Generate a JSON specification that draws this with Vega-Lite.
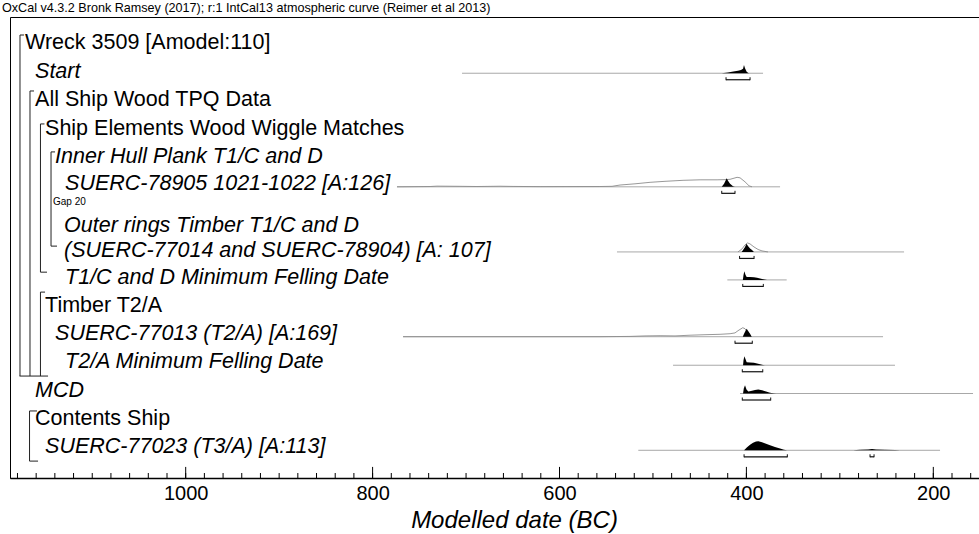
{
  "$schema": "https://vega.github.io/schema/vega-lite/v6.json",
  "width": 972,
  "height": 461,
  "autosize": "none",
  "padding": {"left": 10, "top": 17, "right": 0, "bottom": 56},
  "background": "#ffffff",
  "title": {"text": "OxCal v4.3.2 Bronk Ramsey (2017); r:1 IntCal13 atmospheric curve (Reimer et al 2013)", "anchor": "start", "frame": "group", "fontSize": 12.6, "fontWeight": "normal", "font": "Liberation Sans", "color": "#000", "offset": 2, "dx": -8},
  "config": {"view": {"stroke": "#000", "strokeWidth": 1}, "font": "Liberation Sans"},
  "datasets": {
    "rows": [
      {"id": "start", "row": 2.03, "lo": 704.3, "hi": 382.2},
      {"id": "s78905", "row": 6.13, "lo": 773.9, "hi": 364.0},
      {"id": "outer", "row": 8.48, "lo": 538.5, "hi": 231.3},
      {"id": "t1c", "row": 9.49, "lo": 420.4, "hi": 356.9},
      {"id": "s77013", "row": 11.54, "lo": 767.4, "hi": 253.8},
      {"id": "t2a", "row": 12.57, "lo": 478.5, "hi": 241.0},
      {"id": "mcd", "row": 13.59, "lo": 406.8, "hi": 157.5},
      {"id": "s77023", "row": 15.64, "lo": 515.7, "hi": 192.8}
    ],
    "ranges": [
      {"id": "start", "lo": 421.8, "hi": 396.1},
      {"id": "s78905", "lo": 426.4, "hi": 412.2},
      {"id": "outer", "lo": 407.3, "hi": 391.8},
      {"id": "t1c", "lo": 403.9, "hi": 381.9},
      {"id": "s77013", "lo": 412.2, "hi": 393.7},
      {"id": "t2a", "lo": 404.4, "hi": 382.5},
      {"id": "mcd", "lo": 404.4, "hi": 374.0},
      {"id": "s77023", "lo": 402.5, "hi": 356.2},
      {"id": "s77023", "lo": 267.7, "hi": 263.4}
    ],
    "posterior": [
      {"id": "start", "year": 426.4, "h": 0}, {"id": "start", "year": 419.7, "h": 0.7}, {"id": "start", "year": 414.0, "h": 1.7}, {"id": "start", "year": 409.0, "h": 2.5}, {"id": "start", "year": 405.8, "h": 3.2}, {"id": "start", "year": 403.6, "h": 4.5}, {"id": "start", "year": 402.6, "h": 8.3}, {"id": "start", "year": 401.5, "h": 5}, {"id": "start", "year": 399.7, "h": 1.5}, {"id": "start", "year": 398.0, "h": 0.3}, {"id": "start", "year": 397.2, "h": 0},
      {"id": "s78905", "year": 426.4, "h": 0}, {"id": "s78905", "year": 423.9, "h": 3}, {"id": "s78905", "year": 421.1, "h": 8.5}, {"id": "s78905", "year": 419.7, "h": 6}, {"id": "s78905", "year": 417.5, "h": 3}, {"id": "s78905", "year": 414.3, "h": 0.5}, {"id": "s78905", "year": 412.2, "h": 0},
      {"id": "outer", "year": 405.2, "h": 0}, {"id": "outer", "year": 403.6, "h": 2}, {"id": "outer", "year": 401.5, "h": 5}, {"id": "outer", "year": 399.9, "h": 8.3}, {"id": "outer", "year": 398.3, "h": 6}, {"id": "outer", "year": 396.1, "h": 3.5}, {"id": "outer", "year": 394.0, "h": 2}, {"id": "outer", "year": 391.9, "h": 0},
      {"id": "t1c", "year": 403.8, "h": 0}, {"id": "t1c", "year": 403.1, "h": 5}, {"id": "t1c", "year": 402.2, "h": 8.7}, {"id": "t1c", "year": 400.9, "h": 5}, {"id": "t1c", "year": 399.7, "h": 3}, {"id": "t1c", "year": 396.1, "h": 2.8}, {"id": "t1c", "year": 391.9, "h": 2.6}, {"id": "t1c", "year": 388.6, "h": 2.2}, {"id": "t1c", "year": 385.4, "h": 1.3}, {"id": "t1c", "year": 382.2, "h": 0.6}, {"id": "t1c", "year": 377.9, "h": 0},
      {"id": "s77013", "year": 403.9, "h": 0}, {"id": "s77013", "year": 402.5, "h": 3}, {"id": "s77013", "year": 400.9, "h": 6}, {"id": "s77013", "year": 399.7, "h": 8}, {"id": "s77013", "year": 398.3, "h": 6}, {"id": "s77013", "year": 396.1, "h": 3}, {"id": "s77013", "year": 394.3, "h": 0},
      {"id": "t2a", "year": 403.6, "h": 0}, {"id": "t2a", "year": 403.1, "h": 5}, {"id": "t2a", "year": 402.2, "h": 9}, {"id": "t2a", "year": 400.9, "h": 6}, {"id": "t2a", "year": 399.7, "h": 3}, {"id": "t2a", "year": 396.1, "h": 2.8}, {"id": "t2a", "year": 391.9, "h": 2.5}, {"id": "t2a", "year": 388.6, "h": 1.8}, {"id": "t2a", "year": 385.4, "h": 1}, {"id": "t2a", "year": 382.2, "h": 0.3}, {"id": "t2a", "year": 380.1, "h": 0},
      {"id": "mcd", "year": 403.6, "h": 0}, {"id": "mcd", "year": 402.8, "h": 5}, {"id": "mcd", "year": 401.5, "h": 8.3}, {"id": "mcd", "year": 399.9, "h": 4}, {"id": "mcd", "year": 398.0, "h": 2}, {"id": "mcd", "year": 395.1, "h": 2.5}, {"id": "mcd", "year": 390.8, "h": 3.5}, {"id": "mcd", "year": 387.3, "h": 4}, {"id": "mcd", "year": 383.3, "h": 3.3}, {"id": "mcd", "year": 379.0, "h": 2}, {"id": "mcd", "year": 374.7, "h": 0.8}, {"id": "mcd", "year": 371.2, "h": 0.2}, {"id": "mcd", "year": 368.3, "h": 0},
      {"id": "s77023", "year": 402.5, "h": 0}, {"id": "s77023", "year": 399.3, "h": 3}, {"id": "s77023", "year": 396.1, "h": 5.5}, {"id": "s77023", "year": 392.9, "h": 7.5}, {"id": "s77023", "year": 389.7, "h": 8.7}, {"id": "s77023", "year": 387.2, "h": 9}, {"id": "s77023", "year": 383.3, "h": 8}, {"id": "s77023", "year": 379.0, "h": 6.5}, {"id": "s77023", "year": 374.7, "h": 5}, {"id": "s77023", "year": 369.4, "h": 3.3}, {"id": "s77023", "year": 364.0, "h": 1.7}, {"id": "s77023", "year": 359.8, "h": 0.6}, {"id": "s77023", "year": 356.5, "h": 0}, {"id": "s77023", "year": 285.9, "h": 0}, {"id": "s77023", "year": 278.4, "h": 0.5}, {"id": "s77023", "year": 269.8, "h": 0.8}, {"id": "s77023", "year": 265.6, "h": 1.3}, {"id": "s77023", "year": 261.3, "h": 0.8}, {"id": "s77023", "year": 251.7, "h": 0.5}, {"id": "s77023", "year": 241.0, "h": 0.3}, {"id": "s77023", "year": 235.6, "h": 0}
    ],
    "likelihood": [
      {"id": "s78905", "year": 773.9, "h": 0}, {"id": "s78905", "year": 738.5, "h": 0.3}, {"id": "s78905", "year": 731.1, "h": 0.7}, {"id": "s78905", "year": 706.5, "h": 0.5}, {"id": "s78905", "year": 688.3, "h": 0.3}, {"id": "s78905", "year": 663.6, "h": 0.6}, {"id": "s78905", "year": 649.7, "h": 0.4}, {"id": "s78905", "year": 620.8, "h": 0.2}, {"id": "s78905", "year": 556.7, "h": 0.3}, {"id": "s78905", "year": 543.8, "h": 0.5}, {"id": "s78905", "year": 535.2, "h": 1.8}, {"id": "s78905", "year": 519.2, "h": 3}, {"id": "s78905", "year": 503.1, "h": 4.5}, {"id": "s78905", "year": 487.1, "h": 5.5}, {"id": "s78905", "year": 467.8, "h": 6.5}, {"id": "s78905", "year": 449.6, "h": 7}, {"id": "s78905", "year": 431.4, "h": 7}, {"id": "s78905", "year": 422.9, "h": 7.2}, {"id": "s78905", "year": 417.5, "h": 7.5}, {"id": "s78905", "year": 410.0, "h": 9.5}, {"id": "s78905", "year": 406.8, "h": 9}, {"id": "s78905", "year": 401.5, "h": 5}, {"id": "s78905", "year": 397.2, "h": 1}, {"id": "s78905", "year": 394.0, "h": 0},
      {"id": "outer", "year": 409.0, "h": 0}, {"id": "outer", "year": 404.7, "h": 3}, {"id": "outer", "year": 401.5, "h": 7}, {"id": "outer", "year": 398.8, "h": 9}, {"id": "outer", "year": 396.1, "h": 8}, {"id": "outer", "year": 391.9, "h": 5}, {"id": "outer", "year": 387.6, "h": 2.5}, {"id": "outer", "year": 383.3, "h": 1}, {"id": "outer", "year": 376.9, "h": 0},
      {"id": "s77013", "year": 767.4, "h": 0}, {"id": "s77013", "year": 556.6, "h": 0}, {"id": "s77013", "year": 524.5, "h": 0.3}, {"id": "s77013", "year": 508.5, "h": 0.8}, {"id": "s77013", "year": 492.4, "h": 1}, {"id": "s77013", "year": 476.4, "h": 0.8}, {"id": "s77013", "year": 460.3, "h": 1.5}, {"id": "s77013", "year": 444.3, "h": 2}, {"id": "s77013", "year": 428.2, "h": 2.4}, {"id": "s77013", "year": 417.5, "h": 3}, {"id": "s77013", "year": 412.2, "h": 3.8}, {"id": "s77013", "year": 409.0, "h": 6}, {"id": "s77013", "year": 403.9, "h": 9}, {"id": "s77013", "year": 401.5, "h": 8}, {"id": "s77013", "year": 399.3, "h": 5}, {"id": "s77013", "year": 397.2, "h": 2}, {"id": "s77013", "year": 395.1, "h": 0}
    ],
    "labels": [
      {"text": "Wreck 3509 [Amodel:110]", "x": 1171.9, "row": 0.94, "kind": "group"},
      {"text": "Start", "x": 1161.2, "row": 1.97, "kind": "item"},
      {"text": "All Ship Wood TPQ Data", "x": 1161.2, "row": 3.0, "kind": "group"},
      {"text": "Ship Elements Wood Wiggle Matches", "x": 1150.5, "row": 4.03, "kind": "group"},
      {"text": "Inner Hull Plank T1/C and D", "x": 1139.8, "row": 5.05, "kind": "item"},
      {"text": "SUERC-78905 1021-1022 [A:126]", "x": 1129.1, "row": 6.04, "kind": "item"},
      {"text": "Gap 20", "x": 1142.0, "row": 6.68, "kind": "note"},
      {"text": "Outer rings Timber T1/C and D", "x": 1130.2, "row": 7.55, "kind": "item"},
      {"text": "(SUERC-77014 and SUERC-78904) [A: 107]", "x": 1130.2, "row": 8.46, "kind": "item"},
      {"text": "T1/C and D Minimum Felling Date", "x": 1129.1, "row": 9.42, "kind": "item"},
      {"text": "Timber T2/A", "x": 1150.5, "row": 10.44, "kind": "group"},
      {"text": "SUERC-77013 (T2/A) [A:169]", "x": 1139.8, "row": 11.45, "kind": "item"},
      {"text": "T2/A Minimum Felling Date", "x": 1129.1, "row": 12.47, "kind": "item"},
      {"text": "MCD", "x": 1161.2, "row": 13.49, "kind": "item"},
      {"text": "Contents Ship", "x": 1161.2, "row": 14.51, "kind": "group"},
      {"text": "SUERC-77023 (T3/A) [A:113]", "x": 1150.5, "row": 15.52, "kind": "item"}
    ],
    "brackets": [
      {"x": 1177.3, "x2": 1177.3, "y": 0.65, "y2": 12.96},
      {"x": 1177.3, "x2": 1173.0, "y": 0.65, "y2": 0.65},
      {"x": 1166.6, "x2": 1166.6, "y": 2.67, "y2": 12.96},
      {"x": 1166.6, "x2": 1162.3, "y": 2.67, "y2": 2.67},
      {"x": 1177.8, "x2": 1147.3, "y": 12.96, "y2": 12.96},
      {"x": 1155.4, "x2": 1155.4, "y": 3.86, "y2": 9.21},
      {"x": 1155.4, "x2": 1151.1, "y": 3.86, "y2": 3.86},
      {"x": 1155.4, "x2": 1148.4, "y": 9.21, "y2": 9.21},
      {"x": 1144.1, "x2": 1144.1, "y": 4.87, "y2": 8.27},
      {"x": 1144.1, "x2": 1139.8, "y": 4.87, "y2": 4.87},
      {"x": 1144.1, "x2": 1137.7, "y": 8.27, "y2": 8.27},
      {"x": 1155.4, "x2": 1155.4, "y": 9.93, "y2": 12.96},
      {"x": 1155.4, "x2": 1150.5, "y": 9.93, "y2": 9.93},
      {"x": 1167.1, "x2": 1167.1, "y": 14.22, "y2": 16.03},
      {"x": 1167.1, "x2": 1159.1, "y": 14.22, "y2": 14.22},
      {"x": 1167.1, "x2": 1158.0, "y": 16.03, "y2": 16.03}
    ],
    "ticks": [
      {"year": 1180}, {"year": 1160}, {"year": 1140}, {"year": 1120}, {"year": 1100}, {"year": 1080}, {"year": 1060}, {"year": 1040}, {"year": 1020}, {"year": 1000},
      {"year": 980}, {"year": 960}, {"year": 940}, {"year": 920}, {"year": 900}, {"year": 880}, {"year": 860}, {"year": 840}, {"year": 820}, {"year": 800},
      {"year": 780}, {"year": 760}, {"year": 740}, {"year": 720}, {"year": 700}, {"year": 680}, {"year": 660}, {"year": 640}, {"year": 620}, {"year": 600},
      {"year": 580}, {"year": 560}, {"year": 540}, {"year": 520}, {"year": 500}, {"year": 480}, {"year": 460}, {"year": 440}, {"year": 420}, {"year": 400},
      {"year": 380}, {"year": 360}, {"year": 340}, {"year": 320}, {"year": 300}, {"year": 280}, {"year": 260}, {"year": 240}, {"year": 220}, {"year": 200},
      {"year": 180}, {"year": 160}
    ],
    "majorTicks": [{"year": 1000}, {"year": 800}, {"year": 600}, {"year": 400}, {"year": 200}]
  },
  "layer": [
    {
      "data": {"name": "ticks"},
      "mark": {"type": "rule", "color": "#000", "strokeWidth": 1},
      "encoding": {
        "x": {"field": "year", "type": "quantitative", "title": "Modelled date (BC)",
          "scale": {"domain": [147.9, 1188], "reverse": true, "nice": false, "zero": false},
          "axis": {"values": [1000, 800, 600, 400, 200], "format": "d", "ticks": false, "grid": false, "labelFontSize": 20, "labelColor": "#000", "labelFont": "Liberation Sans", "labelPadding": 5, "domainColor": "#000", "domainWidth": 1.5, "titleFontSize": 24, "titleFontStyle": "italic", "titleFontWeight": "normal", "titleFont": "Liberation Sans", "titleColor": "#000", "titlePadding": 5, "titleX": 504}},
        "y": {"datum": 16.64, "type": "quantitative", "scale": {"domain": [0, 16.64], "reverse": true, "nice": false, "zero": false}, "axis": null},
        "y2": {"datum": 16.46}
      }
    },
    {
      "data": {"name": "majorTicks"},
      "mark": {"type": "rule", "color": "#000", "strokeWidth": 1},
      "encoding": {
        "x": {"field": "year", "type": "quantitative", "title": "Modelled date (BC)"},
        "y": {"datum": 16.64, "type": "quantitative", "axis": null},
        "y2": {"datum": 16.24}
      }
    },
    {
      "data": {"name": "brackets"},
      "mark": {"type": "rule", "color": "#222", "strokeWidth": 1},
      "encoding": {
        "x": {"field": "x", "type": "quantitative", "title": "Modelled date (BC)"},
        "x2": {"field": "x2"},
        "y": {"field": "y", "type": "quantitative", "axis": null},
        "y2": {"field": "y2"}
      }
    },
    {
      "data": {"name": "rows"},
      "mark": {"type": "rule", "color": "#a8a8a8", "strokeWidth": 1},
      "encoding": {
        "x": {"field": "lo", "type": "quantitative", "title": "Modelled date (BC)"},
        "x2": {"field": "hi"},
        "y": {"field": "row", "type": "quantitative", "axis": null}
      }
    },
    {
      "data": {"name": "likelihood"},
      "transform": [
        {"lookup": "id", "from": {"data": {"name": "rows"}, "key": "id", "fields": ["row"]}},
        {"calculate": "datum.row - datum.h / 27.7", "as": "top"}
      ],
      "mark": {"type": "line", "color": "#8c8c8c", "strokeWidth": 0.9, "interpolate": "linear"},
      "encoding": {
        "x": {"field": "year", "type": "quantitative", "title": "Modelled date (BC)"},
        "y": {"field": "top", "type": "quantitative", "axis": null},
        "detail": {"field": "id"}
      }
    },
    {
      "data": {"name": "posterior"},
      "transform": [
        {"lookup": "id", "from": {"data": {"name": "rows"}, "key": "id", "fields": ["row"]}},
        {"calculate": "datum.row - datum.h / 27.7", "as": "top"}
      ],
      "mark": {"type": "area", "color": "#000", "interpolate": "linear"},
      "encoding": {
        "x": {"field": "year", "type": "quantitative", "title": "Modelled date (BC)"},
        "y": {"field": "top", "type": "quantitative", "axis": null},
        "y2": {"field": "row"},
        "detail": {"field": "id"}
      }
    },
    {
      "data": {"name": "ranges"},
      "transform": [
        {"lookup": "id", "from": {"data": {"name": "rows"}, "key": "id", "fields": ["row"]}}
      ],
      "layer": [
        {
          "mark": {"type": "rule", "color": "#111", "strokeWidth": 1.2, "yOffset": 6.5},
          "encoding": {
            "x": {"field": "lo", "type": "quantitative", "title": "Modelled date (BC)"},
            "x2": {"field": "hi"},
            "y": {"field": "row", "type": "quantitative", "axis": null}
          }
        },
        {
          "mark": {"type": "rule", "color": "#111", "strokeWidth": 1, "yOffset": 4, "y2Offset": 7},
          "encoding": {
            "x": {"field": "lo", "type": "quantitative", "title": "Modelled date (BC)"},
            "y": {"field": "row", "type": "quantitative", "axis": null},
            "y2": {"field": "row"}
          }
        },
        {
          "mark": {"type": "rule", "color": "#111", "strokeWidth": 1, "yOffset": 4, "y2Offset": 7},
          "encoding": {
            "x": {"field": "hi", "type": "quantitative", "title": "Modelled date (BC)"},
            "y": {"field": "row", "type": "quantitative", "axis": null},
            "y2": {"field": "row"}
          }
        }
      ]
    },
    {
      "data": {"name": "labels"},
      "transform": [{"filter": "datum.kind === 'group'"}],
      "mark": {"type": "text", "align": "left", "baseline": "middle", "fontSize": 21.5, "font": "Liberation Sans", "color": "#000"},
      "encoding": {
        "x": {"field": "x", "type": "quantitative", "title": "Modelled date (BC)"},
        "y": {"field": "row", "type": "quantitative", "axis": null},
        "text": {"field": "text"}
      }
    },
    {
      "data": {"name": "labels"},
      "transform": [{"filter": "datum.kind === 'item'"}],
      "mark": {"type": "text", "align": "left", "baseline": "middle", "fontSize": 21.5, "fontStyle": "italic", "font": "Liberation Sans", "color": "#000"},
      "encoding": {
        "x": {"field": "x", "type": "quantitative", "title": "Modelled date (BC)"},
        "y": {"field": "row", "type": "quantitative", "axis": null},
        "text": {"field": "text"}
      }
    },
    {
      "data": {"name": "labels"},
      "transform": [{"filter": "datum.kind === 'note'"}],
      "mark": {"type": "text", "align": "left", "baseline": "middle", "fontSize": 10, "font": "Liberation Sans", "color": "#000"},
      "encoding": {
        "x": {"field": "x", "type": "quantitative", "title": "Modelled date (BC)"},
        "y": {"field": "row", "type": "quantitative", "axis": null},
        "text": {"field": "text"}
      }
    }
  ]
}
